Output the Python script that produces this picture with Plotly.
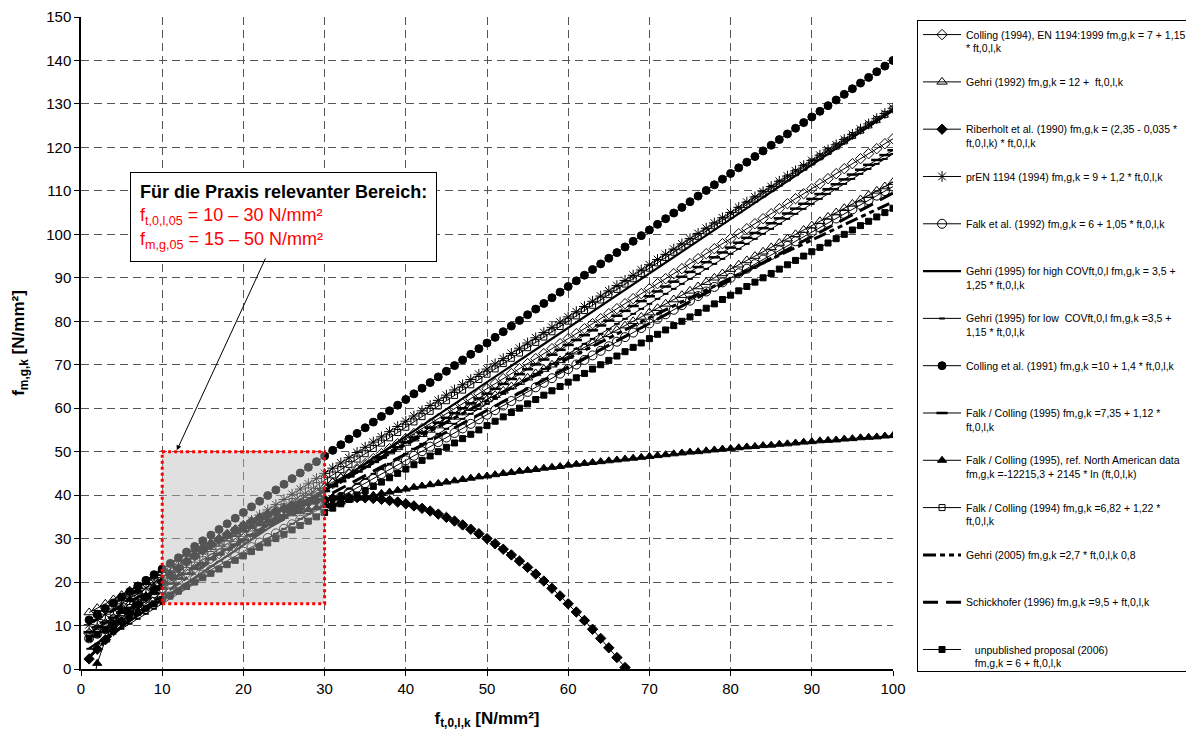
import plotly.graph_objects as go

# ---------------- data ----------------
X = list(range(1, 101))

colling_1994 = [8.15, 9.3, 10.45, 11.6, 12.75, 13.9, 15.05, 16.2, 17.35, 18.5,
                19.65, 20.8, 21.95, 23.1, 24.25, 25.4, 26.55, 27.7, 28.85, 30,
                31.15, 32.3, 33.45, 34.6, 35.75, 36.9, 38.05, 39.2, 40.35, 41.5,
                42.65, 43.8, 44.95, 46.1, 47.25, 48.4, 49.55, 50.7, 51.85, 53,
                54.15, 55.3, 56.45, 57.6, 58.75, 59.9, 61.05, 62.2, 63.35, 64.5,
                65.65, 66.8, 67.95, 69.1, 70.25, 71.4, 72.55, 73.7, 74.85, 76,
                77.15, 78.3, 79.45, 80.6, 81.75, 82.9, 84.05, 85.2, 86.35, 87.5,
                88.65, 89.8, 90.95, 92.1, 93.25, 94.4, 95.55, 96.7, 97.85, 99,
                100.15, 101.3, 102.45, 103.6, 104.75, 105.9, 107.05, 108.2, 109.35, 110.5,
                111.65, 112.8, 113.95, 115.1, 116.25, 117.4, 118.55, 119.7, 120.85, 122]

gehri_1992 = [13, 14, 15, 16, 17, 18, 19, 20, 21, 22,
              23, 24, 25, 26, 27, 28, 29, 30, 31, 32,
              33, 34, 35, 36, 37, 38, 39, 40, 41, 42,
              43, 44, 45, 46, 47, 48, 49, 50, 51, 52,
              53, 54, 55, 56, 57, 58, 59, 60, 61, 62,
              63, 64, 65, 66, 67, 68, 69, 70, 71, 72,
              73, 74, 75, 76, 77, 78, 79, 80, 81, 82,
              83, 84, 85, 86, 87, 88, 89, 90, 91, 92,
              93, 94, 95, 96, 97, 98, 99, 100, 101, 102,
              103, 104, 105, 106, 107, 108, 109, 110, 111, 112]

X_RIB = list(range(1, 69))
riberholt_1990 = [2.32, 4.56, 6.74, 8.84, 10.88, 12.84, 14.74, 16.56, 18.32, 20,
                  21.62, 23.16, 24.64, 26.04, 27.38, 28.64, 29.84, 30.96, 32.02, 33,
                  33.92, 34.76, 35.54, 36.24, 36.88, 37.44, 37.94, 38.36, 38.72, 39,
                  39.22, 39.36, 39.44, 39.44, 39.38, 39.24, 39.04, 38.76, 38.42, 38,
                  37.52, 36.96, 36.34, 35.64, 34.88, 34.04, 33.14, 32.16, 31.12, 30,
                  28.82, 27.56, 26.24, 24.84, 23.38, 21.84, 20.24, 18.56, 16.82, 15,
                  13.12, 11.16, 9.14, 7.04, 4.88, 2.64, 0.34, -2.04]

pren_1194 = [10.2, 11.4, 12.6, 13.8, 15, 16.2, 17.4, 18.6, 19.8, 21,
             22.2, 23.4, 24.6, 25.8, 27, 28.2, 29.4, 30.6, 31.8, 33,
             34.2, 35.4, 36.6, 37.8, 39, 40.2, 41.4, 42.6, 43.8, 45,
             46.2, 47.4, 48.6, 49.8, 51, 52.2, 53.4, 54.6, 55.8, 57,
             58.2, 59.4, 60.6, 61.8, 63, 64.2, 65.4, 66.6, 67.8, 69,
             70.2, 71.4, 72.6, 73.8, 75, 76.2, 77.4, 78.6, 79.8, 81,
             82.2, 83.4, 84.6, 85.8, 87, 88.2, 89.4, 90.6, 91.8, 93,
             94.2, 95.4, 96.6, 97.8, 99, 100.2, 101.4, 102.6, 103.8, 105,
             106.2, 107.4, 108.6, 109.8, 111, 112.2, 113.4, 114.6, 115.8, 117,
             118.2, 119.4, 120.6, 121.8, 123, 124.2, 125.4, 126.6, 127.8, 129]

falk_1992 = [7.05, 8.1, 9.15, 10.2, 11.25, 12.3, 13.35, 14.4, 15.45, 16.5,
             17.55, 18.6, 19.65, 20.7, 21.75, 22.8, 23.85, 24.9, 25.95, 27,
             28.05, 29.1, 30.15, 31.2, 32.25, 33.3, 34.35, 35.4, 36.45, 37.5,
             38.55, 39.6, 40.65, 41.7, 42.75, 43.8, 44.85, 45.9, 46.95, 48,
             49.05, 50.1, 51.15, 52.2, 53.25, 54.3, 55.35, 56.4, 57.45, 58.5,
             59.55, 60.6, 61.65, 62.7, 63.75, 64.8, 65.85, 66.9, 67.95, 69,
             70.05, 71.1, 72.15, 73.2, 74.25, 75.3, 76.35, 77.4, 78.45, 79.5,
             80.55, 81.6, 82.65, 83.7, 84.75, 85.8, 86.85, 87.9, 88.95, 90,
             91.05, 92.1, 93.15, 94.2, 95.25, 96.3, 97.35, 98.4, 99.45, 100.5,
             101.55, 102.6, 103.65, 104.7, 105.75, 106.8, 107.85, 108.9, 109.95, 111]

X_LINE = [1, 10, 20, 30, 40, 50, 60, 70, 80, 90, 100]
gehri_1995_high = [4.75, 16, 28.5, 41, 53.5, 66, 78.5, 91, 103.5, 116, 128.5]

gehri_1995_low = [4.65, 5.8, 6.95, 8.1, 9.25, 10.4, 11.55, 12.7, 13.85, 15,
                  16.15, 17.3, 18.45, 19.6, 20.75, 21.9, 23.05, 24.2, 25.35, 26.5,
                  27.65, 28.8, 29.95, 31.1, 32.25, 33.4, 34.55, 35.7, 36.85, 38,
                  39.15, 40.3, 41.45, 42.6, 43.75, 44.9, 46.05, 47.2, 48.35, 49.5,
                  50.65, 51.8, 52.95, 54.1, 55.25, 56.4, 57.55, 58.7, 59.85, 61,
                  62.15, 63.3, 64.45, 65.6, 66.75, 67.9, 69.05, 70.2, 71.35, 72.5,
                  73.65, 74.8, 75.95, 77.1, 78.25, 79.4, 80.55, 81.7, 82.85, 84,
                  85.15, 86.3, 87.45, 88.6, 89.75, 90.9, 92.05, 93.2, 94.35, 95.5,
                  96.65, 97.8, 98.95, 100.1, 101.25, 102.4, 103.55, 104.7, 105.85, 107,
                  108.15, 109.3, 110.45, 111.6, 112.75, 113.9, 115.05, 116.2, 117.35, 118.5]

colling_1991 = [11.3, 12.6, 13.9, 15.2, 16.5, 17.8, 19.1, 20.4, 21.7, 23,
                24.3, 25.6, 26.9, 28.2, 29.5, 30.8, 32.1, 33.4, 34.7, 36,
                37.3, 38.6, 39.9, 41.2, 42.5, 43.8, 45.1, 46.4, 47.7, 49,
                50.3, 51.6, 52.9, 54.2, 55.5, 56.8, 58.1, 59.4, 60.7, 62,
                63.3, 64.6, 65.9, 67.2, 68.5, 69.8, 71.1, 72.4, 73.7, 75,
                76.3, 77.6, 78.9, 80.2, 81.5, 82.8, 84.1, 85.4, 86.7, 88,
                89.3, 90.6, 91.9, 93.2, 94.5, 95.8, 97.1, 98.4, 99.7, 101,
                102.3, 103.6, 104.9, 106.2, 107.5, 108.8, 110.1, 111.4, 112.7, 114,
                115.3, 116.6, 117.9, 119.2, 120.5, 121.8, 123.1, 124.4, 125.7, 127,
                128.3, 129.6, 130.9, 132.2, 133.5, 134.8, 136.1, 137.4, 138.7, 140]

falk_colling_1995 = [8.47, 9.59, 10.71, 11.83, 12.95, 14.07, 15.19, 16.31, 17.43, 18.55,
                     19.67, 20.79, 21.91, 23.03, 24.15, 25.27, 26.39, 27.51, 28.63, 29.75,
                     30.87, 31.99, 33.11, 34.23, 35.35, 36.47, 37.59, 38.71, 39.83, 40.95,
                     42.07, 43.19, 44.31, 45.43, 46.55, 47.67, 48.79, 49.91, 51.03, 52.15,
                     53.27, 54.39, 55.51, 56.63, 57.75, 58.87, 59.99, 61.11, 62.23, 63.35,
                     64.47, 65.59, 66.71, 67.83, 68.95, 70.07, 71.19, 72.31, 73.43, 74.55,
                     75.67, 76.79, 77.91, 79.03, 80.15, 81.27, 82.39, 83.51, 84.63, 85.75,
                     86.87, 87.99, 89.11, 90.23, 91.35, 92.47, 93.59, 94.71, 95.83, 96.95,
                     98.07, 99.19, 100.31, 101.43, 102.55, 103.67, 104.79, 105.91, 107.03, 108.15,
                     109.27, 110.39, 111.51, 112.63, 113.75, 114.87, 115.99, 117.11, 118.23, 119.35]

falk_colling_na = [-8.0, 1.3, 6.7, 10.6, 13.6, 16.0, 18.1, 19.9, 21.4, 22.9,
                   24.1, 25.3, 26.4, 27.4, 28.3, 29.2, 30.0, 30.7, 31.5, 32.1,
                   32.8, 33.4, 34.0, 34.6, 35.1, 35.7, 36.2, 36.7, 37.1, 37.6,
                   38.0, 38.4, 38.9, 39.3, 39.6, 40.0, 40.4, 40.7, 41.1, 41.4,
                   41.8, 42.1, 42.4, 42.7, 43.0, 43.3, 43.6, 43.9, 44.2, 44.4,
                   44.7, 45.0, 45.2, 45.5, 45.7, 45.9, 46.2, 46.4, 46.6, 46.9,
                   47.1, 47.3, 47.5, 47.7, 47.9, 48.1, 48.3, 48.5, 48.7, 48.9,
                   49.1, 49.3, 49.5, 49.7, 49.9, 50.0, 50.2, 50.4, 50.6, 50.7,
                   50.9, 51.1, 51.2, 51.4, 51.5, 51.7, 51.8, 52.0, 52.2, 52.3,
                   52.5, 52.6, 52.7, 52.9, 53.0, 53.2, 53.3, 53.4, 53.6, 53.7]

falk_colling_1994 = [8.04, 9.26, 10.48, 11.7, 12.92, 14.14, 15.36, 16.58, 17.8, 19.02,
                     20.24, 21.46, 22.68, 23.9, 25.12, 26.34, 27.56, 28.78, 30, 31.22,
                     32.44, 33.66, 34.88, 36.1, 37.32, 38.54, 39.76, 40.98, 42.2, 43.42,
                     44.64, 45.86, 47.08, 48.3, 49.52, 50.74, 51.96, 53.18, 54.4, 55.62,
                     56.84, 58.06, 59.28, 60.5, 61.72, 62.94, 64.16, 65.38, 66.6, 67.82,
                     69.04, 70.26, 71.48, 72.7, 73.92, 75.14, 76.36, 77.58, 78.8, 80.02,
                     81.24, 82.46, 83.68, 84.9, 86.12, 87.34, 88.56, 89.78, 91, 92.22,
                     93.44, 94.66, 95.88, 97.1, 98.32, 99.54, 100.76, 101.98, 103.2, 104.42,
                     105.64, 106.86, 108.08, 109.3, 110.52, 111.74, 112.96, 114.18, 115.4, 116.62,
                     117.84, 119.06, 120.28, 121.5, 122.72, 123.94, 125.16, 126.38, 127.6, 128.82]

X_G05 = [1, 2, 3, 4, 5, 7, 10, 15, 20, 25, 30, 35, 40, 45, 50, 60, 70, 80, 90, 100]
gehri_2005 = [2.7, 4.7, 6.5, 8.18, 9.78, 12.81, 17.04, 23.56, 29.66, 35.46,
              41.04, 46.41, 51.66, 56.74, 61.75, 71.45, 80.81, 89.91, 98.79, 107.49]

schickhofer_1996 = [10.5, 19.5, 29.5, 39.5, 49.5, 59.5, 69.5, 79.5, 89.5, 99.5, 109.5]

unpublished_2006 = [7, 8, 9, 10, 11, 12, 13, 14, 15, 16,
                    17, 18, 19, 20, 21, 22, 23, 24, 25, 26,
                    27, 28, 29, 30, 31, 32, 33, 34, 35, 36,
                    37, 38, 39, 40, 41, 42, 43, 44, 45, 46,
                    47, 48, 49, 50, 51, 52, 53, 54, 55, 56,
                    57, 58, 59, 60, 61, 62, 63, 64, 65, 66,
                    67, 68, 69, 70, 71, 72, 73, 74, 75, 76,
                    77, 78, 79, 80, 81, 82, 83, 84, 85, 86,
                    87, 88, 89, 90, 91, 92, 93, 94, 95, 96,
                    97, 98, 99, 100, 101, 102, 103, 104, 105, 106]

NAMES = [
    "Colling (1994), EN 1194:1999 fm,g,k = 7 + 1,15<br>* ft,0,l,k",
    "Gehri (1992) fm,g,k = 12 +  ft,0,l,k<br> ",
    "Riberholt et al. (1990) fm,g,k = (2,35 - 0,035 *<br>ft,0,l,k) * ft,0,l,k",
    "prEN 1194 (1994) fm,g,k = 9 + 1,2 * ft,0,l,k<br> ",
    "Falk et al. (1992) fm,g,k = 6 + 1,05 * ft,0,l,k<br> ",
    "Gehri (1995) for high COVft,0,l fm,g,k = 3,5 +<br>1,25 * ft,0,l,k",
    "Gehri (1995) for low  COVft,0,l fm,g,k =3,5 +<br>1,15 * ft,0,l,k",
    "Colling et al. (1991) fm,g,k =10 + 1,4 * ft,0,l,k<br> ",
    "Falk / Colling (1995) fm,g,k =7,35 + 1,12 *<br>ft,0,l,k",
    "Falk / Colling (1995), ref. North American data<br>fm,g,k =-12215,3 + 2145 * ln (ft,0,l,k)",
    "Falk / Colling (1994) fm,g,k =6,82 + 1,22 *<br>ft,0,l,k",
    "Gehri (2005) fm,g,k =2,7 * ft,0,l,k 0,8<br> ",
    "Schickhofer (1996) fm,g,k =9,5 + ft,0,l,k<br> ",
    "   unpublished proposal (2006)<br>   fm,g,k = 6 + ft,0,l,k",
]

# ---------------- figure ----------------
fig = go.Figure()


def add(i, xs, ys, symbol=None, size=7, mlw=1, lw=1, dash="solid"):
    marker = dict(symbol=symbol, size=size, color="black",
                  line=dict(color="black", width=mlw)) if symbol else None
    fig.add_trace(go.Scatter(
        x=xs, y=ys, name=NAMES[i], mode="lines+markers" if symbol else "lines",
        line=dict(color="black", width=lw, dash=dash),
        marker=marker, legendgroup=str(i), cliponaxis=True))


add(0, X, colling_1994, "diamond-open", 8)
add(1, X, gehri_1992, "triangle-up-open", 9)
add(2, X_RIB, riberholt_1990, "diamond", 8)
add(3, X, pren_1194, "asterisk-open", 9)
add(4, X, falk_1992, "circle-open", 9)
add(5, X_LINE, gehri_1995_high, None, lw=2.2)
add(6, X, gehri_1995_low, "line-ew-open", 4, mlw=2)
add(7, X, colling_1991, "circle", 8)
add(8, X, falk_colling_1995, "line-ew-open", 8, mlw=2.5)
add(9, X, falk_colling_na, "triangle-up", 8)
add(10, X, falk_colling_1994, "square-open", 6)
add(11, X_G05, gehri_2005, None, lw=3, dash="13px,4px,5px,4px,5px,4px")
add(12, X_LINE, schickhofer_1996, None, lw=3, dash="15px,8px")
add(13, X, unpublished_2006, "square", 6)

grid = dict(showgrid=True, gridcolor="#555555", gridwidth=1, griddash="8px,5px",
            showline=True, linecolor="black", linewidth=1.5, ticks="outside",
            ticklen=5, tickcolor="black", zeroline=False,
            ticklabeloverflow="allow",
            tickfont=dict(size=15, color="black"))

fig.update_xaxes(range=[0, 100], dtick=10, tick0=0,
                 title=dict(text="<b>f<sub>t,0,l,k</sub> [N/mm²]</b>",
                            font=dict(size=17), standoff=16), **grid)
fig.update_yaxes(range=[0, 150], dtick=10, tick0=0,
                 title=dict(text="<b>f<sub>m,g,k</sub> [N/mm²]</b>",
                            font=dict(size=17), standoff=17), **grid)

fig.add_shape(type="rect", xref="x", yref="y", x0=10, x1=30, y0=15, y1=50,
              line=dict(color="red", width=3, dash="dot"),
              fillcolor="rgba(186,186,186,0.45)", layer="above")

fig.add_annotation(
    xref="x", yref="y", x=6, y=114.4, xanchor="left", yanchor="top",
    align="left", showarrow=False, bgcolor="white", bordercolor="black",
    borderwidth=1, borderpad=9, font=dict(size=18, color="black"),
    text=("<b>Für die Praxis relevanter Bereich:</b><br>"
          "<span style='color:red'>f<sub>t,0,l,05</sub> = 10 – 30 N/mm²</span><br>"
          "<span style='color:red'>f<sub>m,g,05</sub> = 15 – 50 N/mm²</span>"))

fig.add_annotation(
    xref="x", yref="y", axref="x", ayref="y", x=11.8, y=50.3, ax=22.8, ay=94.8,
    text="", showarrow=True, arrowhead=2, arrowsize=1, arrowwidth=1,
    arrowcolor="black")

# the page body adds an 8px offset, so margins are shifted by 8px
fig.update_layout(
    width=1194, height=735,
    margin=dict(l=73, r=309, t=9, b=74, autoexpand=False),
    plot_bgcolor="white", paper_bgcolor="white",
    font=dict(family="Arial, Liberation Sans, sans-serif", color="black"),
    showlegend=True,
    legend=dict(x=1.0296, y=0.995, xanchor="left", yanchor="top",
                bgcolor="white", bordercolor="black", borderwidth=1,
                font=dict(size=10.5, color="black"), valign="top",
                tracegroupgap=17, itemwidth=38, traceorder="grouped"),
)

fig.write_html("out.html")
